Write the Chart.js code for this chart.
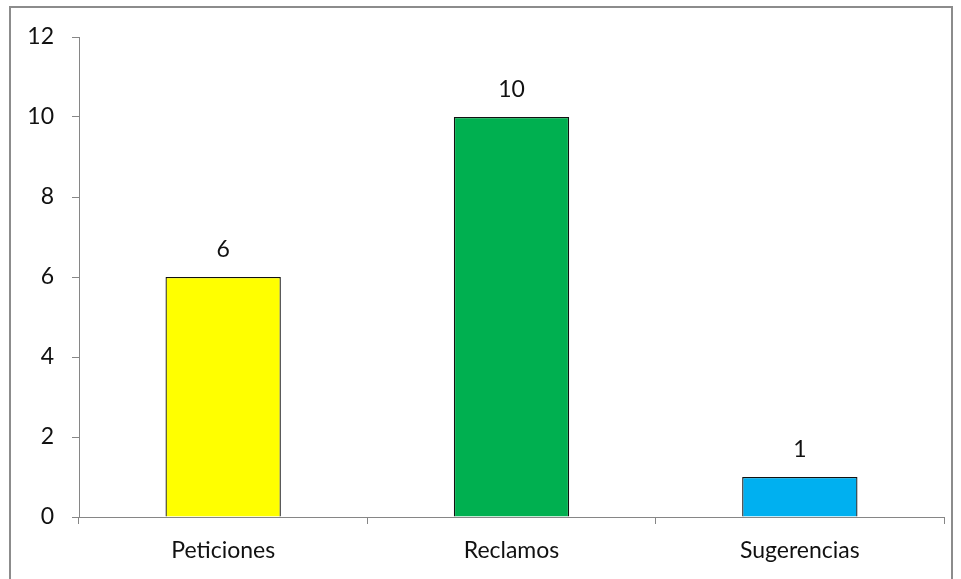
<!DOCTYPE html>
<html lang="es">
<head>
  <meta charset="UTF-8">
  <title>Peticiones, reclamos y sugerencias</title>
  <script src="https://cdn.jsdelivr.net/npm/chart.js"></script>
  <style>
    html, body { margin: 0; padding: 0; background: #fff; overflow: hidden; }
    #wrap { position: relative; width: 961px; height: 579px; }
    #frame { position: absolute; left: 9px; top: 6px; width: 944px; height: 600px; border: 2px solid #8c8c8c; box-sizing: border-box; }
    canvas { position: absolute; left: 0; top: 0; }
  </style>
</head>
<body>
  <div id="wrap">
    <div id="frame"></div>
    <canvas id="chart" width="961" height="579"></canvas>
  </div>

  <script>
    // datos
    const categorias = ['Peticiones', 'Reclamos', 'Sugerencias'];
    const valores = [6, 10, 1];
    const colores = ['#FFFF00', '#00B050', '#00B0F0'];

    const fuente = { family: 'Lato, "Open Sans", sans-serif', size: 23 };

    // etiquetas encima de cada barra
    const etiquetas = {
      id: 'etiquetas',
      afterDatasetsDraw(chart) {
        const ctx = chart.ctx;
        const meta = chart.getDatasetMeta(0);
        ctx.save();
        ctx.font = `${fuente.size}px ${fuente.family}`;
        ctx.fillStyle = '#111';
        ctx.textAlign = 'center';
        ctx.textBaseline = 'middle';
        meta.data.forEach((bar, i) => {
          ctx.fillText(String(valores[i]), bar.x, bar.y - 27);
        });
        ctx.restore();
      }
    };

    new Chart(document.getElementById('chart'), {
      type: 'bar',
      data: {
        labels: categorias,
        datasets: [{
          data: valores,
          backgroundColor: colores,
          borderColor: '#111',
          borderWidth: 1.3,
          borderSkipped: 'bottom',
          barPercentage: 0.4,
          categoryPercentage: 1.0
        }]
      },
      options: {
        responsive: false,
        animation: false,
        layout: { padding: { left: 0, right: 17, top: 37, bottom: 0 } },
        plugins: {
          legend: { display: false },
          tooltip: { enabled: false }
        },
        scales: {
          x: {
            grid: { offset: true, drawOnChartArea: false, drawTicks: true, tickLength: 7, color: '#868686' },
            border: { display: true, color: '#868686', width: 1 },
            ticks: { color: '#111', font: fuente, padding: 13 },
            afterFit(scale) { scale.height = 62; }
          },
          y: {
            min: 0,
            max: 12,
            ticks: { stepSize: 2, color: '#111', font: fuente, padding: 18 },
            grid: { drawOnChartArea: false, drawTicks: true, tickLength: 7, color: '#868686' },
            border: { display: true, color: '#868686', width: 1 },
            afterFit(scale) { scale.width = 79; }
          }
        }
      },
      plugins: [etiquetas]
    });
  </script>
</body>
</html>
